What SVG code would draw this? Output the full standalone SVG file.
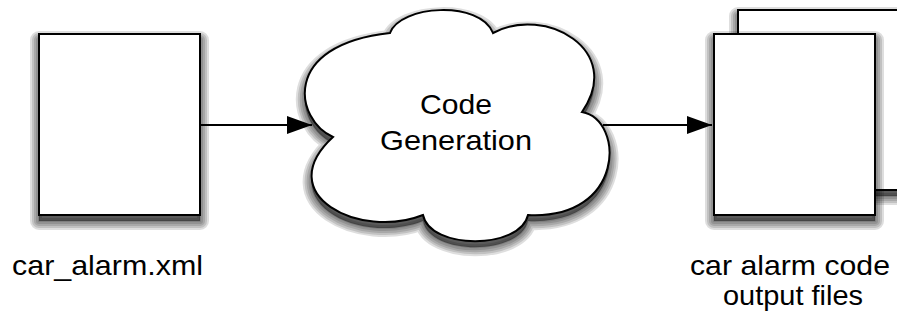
<svg xmlns="http://www.w3.org/2000/svg" width="897" height="320" viewBox="0 0 897 320">
  <defs>
    <marker id="head" viewBox="0 0 25 18" refX="25" refY="9" markerWidth="25" markerHeight="18" markerUnits="userSpaceOnUse" orient="auto">
      <path d="M0,0 L25,9 L0,18 Z" fill="#000"/>
    </marker>
    <!-- outlines shared by the shapes and their soft shadows -->
    <rect id="sheet-in" x="39" y="34" width="161" height="181"/>
    <rect id="sheet-back" x="738" y="10" width="175" height="180"/>
    <rect id="sheet-out" x="714" y="34" width="161" height="181"/>
    <path id="cloud-outline" d="M333,137 C295,120 280,45 390,33 C400,5 480,0 493,33 C545,5 625,50 582,112 C625,120 625,220 528,215 C520,250 430,250 423,215 C360,240 270,195 333,137 Z"/>
  </defs>
  <style>
    .shape { fill: #fff; stroke: #000; stroke-width: 2; }
    /* soft drop shadow built from stacked translucent strokes */
    .s0 { fill: #000; fill-opacity: 0.45; stroke: none; }
    .s1, .s2, .s3, .s4, .s5 { fill: none; stroke: #000; stroke-opacity: 0.13; stroke-linejoin: round; }
    .s1 { stroke-width: 18; }
    .s2 { stroke-width: 14; }
    .s3 { stroke-width: 10; }
    .s4 { stroke-width: 6; }
    .s5 { stroke-width: 2; }
    .label { font-family: "Liberation Sans", Arial, Helvetica, sans-serif; font-size: 28px; fill: #000; text-anchor: middle; }
    .wire { fill: none; stroke: #000; stroke-width: 1.8; }
  </style>
  <rect width="897" height="320" fill="#fff"/>

  <!-- input file -->
  <g id="input-file">
    <g transform="translate(0,6)">
      <use href="#sheet-in" class="s0"/><use href="#sheet-in" class="s1"/><use href="#sheet-in" class="s2"/>
      <use href="#sheet-in" class="s3"/><use href="#sheet-in" class="s4"/><use href="#sheet-in" class="s5"/>
    </g>
    <use href="#sheet-in" class="shape"/>
    <text class="label" x="107.5" y="275" textLength="191" lengthAdjust="spacingAndGlyphs">car_alarm.xml</text>
  </g>

  <!-- generator cloud -->
  <g id="code-generation">
    <g transform="translate(0,6)">
      <use href="#cloud-outline" class="s0"/><use href="#cloud-outline" class="s1"/><use href="#cloud-outline" class="s2"/>
      <use href="#cloud-outline" class="s3"/><use href="#cloud-outline" class="s4"/><use href="#cloud-outline" class="s5"/>
    </g>
    <use href="#cloud-outline" class="shape"/>
    <text class="label" x="456" y="114" textLength="72" lengthAdjust="spacingAndGlyphs">Code</text>
    <text class="label" x="456" y="150" textLength="152" lengthAdjust="spacingAndGlyphs">Generation</text>
  </g>

  <!-- stack of output files -->
  <g id="output-files">
    <g transform="translate(0,6)">
      <use href="#sheet-back" class="s0"/><use href="#sheet-back" class="s1"/><use href="#sheet-back" class="s2"/>
      <use href="#sheet-back" class="s3"/><use href="#sheet-back" class="s4"/><use href="#sheet-back" class="s5"/>
    </g>
    <use href="#sheet-back" class="shape"/>
    <g transform="translate(0,6)">
      <use href="#sheet-out" class="s0"/><use href="#sheet-out" class="s1"/><use href="#sheet-out" class="s2"/>
      <use href="#sheet-out" class="s3"/><use href="#sheet-out" class="s4"/><use href="#sheet-out" class="s5"/>
    </g>
    <use href="#sheet-out" class="shape"/>
    <text class="label" x="790" y="275" textLength="200" lengthAdjust="spacingAndGlyphs">car alarm code</text>
    <text class="label" x="793" y="305" textLength="140" lengthAdjust="spacingAndGlyphs">output files</text>
  </g>

  <!-- connectors -->
  <g id="connectors">
    <line class="wire" x1="201" y1="125" x2="312" y2="125" marker-end="url(#head)"/>
    <line class="wire" x1="603" y1="125" x2="712" y2="125" marker-end="url(#head)"/>
  </g>
</svg>
